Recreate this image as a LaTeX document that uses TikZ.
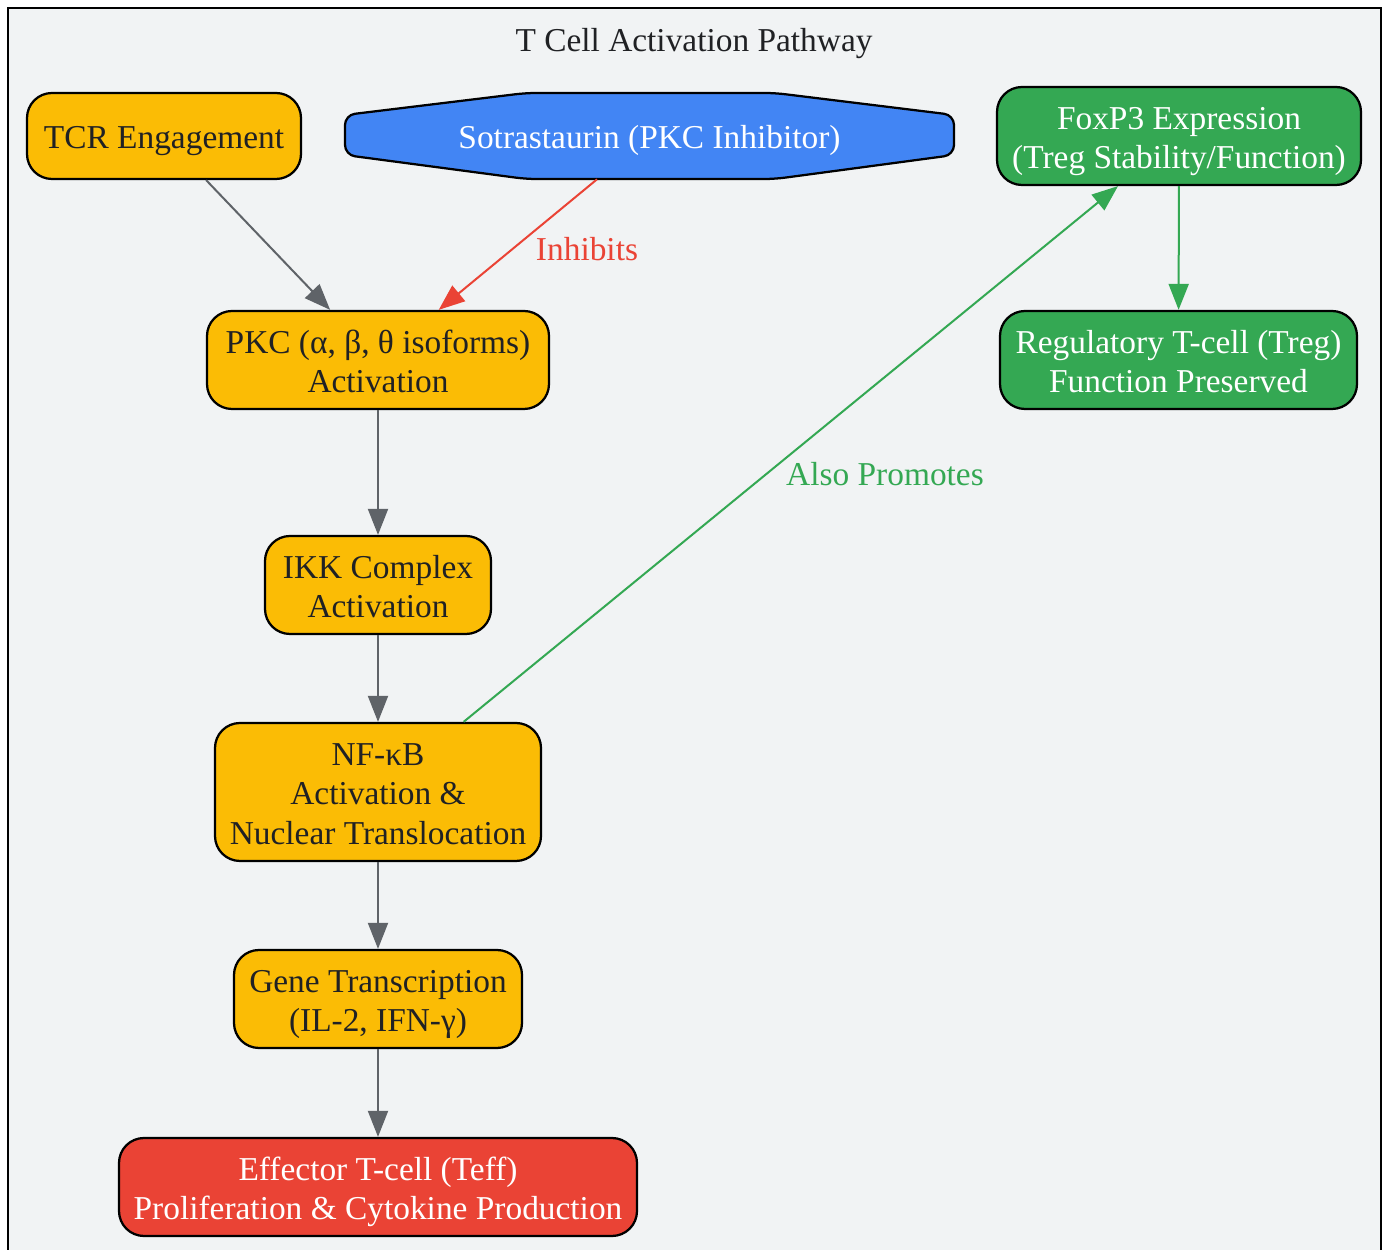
\documentclass[tikz,border=0pt]{standalone}
\usepackage{fontspec}
\setmainfont{Liberation Serif}
\usetikzlibrary{arrows.meta}
\definecolor{panelbg}{HTML}{F1F3F4}
\definecolor{gyellow}{HTML}{FBBC05}
\definecolor{gblue}{HTML}{4285F4}
\definecolor{ggreen}{HTML}{34A853}
\definecolor{gred}{HTML}{EA4335}
\definecolor{edgegray}{HTML}{5F6368}
\definecolor{inkdark}{HTML}{202124}
\newcommand{\boxtext}[1]{\raisebox{0pt}[\dimexpr\height+0.2cm\relax][\depth]{\begin{tabular}{@{}c@{}}#1\end{tabular}}}
\tikzset{
  stepnode/.style={draw=black, line width=0.045cm, rounded corners=0.5cm, inner sep=0pt},
  yellowstep/.style={stepnode, fill=gyellow, text=inkdark},
  greenstep/.style={stepnode, fill=ggreen, text=white},
  redstep/.style={stepnode, fill=gred, text=white},
  flow/.style={-{Triangle[length=0.52cm,width=0.4cm]}, line width=0.04cm},
}
\begin{document}
\begin{tikzpicture}
            \useasboundingbox (0.000000,0.000000) rectangle (27.740000,25.000000);
            % Drawing cluster frame
            \fill [white] (0.000000,0.000000) rectangle (27.740000,25.000000);%
            \draw [fill=panelbg, line width=0.04cm] (0.160000,-0.500000) rectangle (27.620000,24.840000);%
            {\fontsize{19}{22.4}\selectfont

            % Marking title
            \node (title) at (13.880000,24.120000) [text=inkdark] {T Cell Activation Pathway};%

            % Drawing node TCR
            \node (tcr) at (3.280000,22.280000) [yellowstep, minimum width=5.480000cm, minimum height=1.720000cm] {\boxtext{TCR Engagement}};%

            % Drawing node Sotrastaurin
            \draw [fill=gblue, line width=0.045cm, rounded corners=0.2cm] (6.900000,22.700000) -- (10.520000,23.140000) -- (15.500000,23.140000) -- (19.080000,22.700000) -- (19.080000,21.900000) -- (15.500000,21.420000) -- (10.520000,21.420000) -- (6.900000,21.900000) -- cycle;%
            \node (sotra) at (12.990000,22.280000) [text=white, minimum width=12.180000cm, minimum height=1.720000cm, inner sep=0pt] {\boxtext{Sotrastaurin (PKC Inhibitor)}};%

            % Drawing node FoxP3
            \node (foxp3) at (23.580000,22.280000) [greenstep, minimum width=7.280000cm, minimum height=1.960000cm] {\boxtext{FoxP3 Expression\\(Treg Stability/Function)}};%

            % Drawing node PKC
            \node (pkc) at (7.560000,17.800000) [yellowstep, minimum width=6.840000cm, minimum height=1.960000cm] {\boxtext{PKC (α, β, θ isoforms)\\Activation}};%

            % Drawing node Treg
            \node (treg) at (23.570000,17.800000) [greenstep, minimum width=7.140000cm, minimum height=1.960000cm] {\boxtext{Regulatory T-cell (Treg)\\Function Preserved}};%

            % Drawing node IKK
            \node (ikk) at (7.560000,13.300000) [yellowstep, minimum width=4.520000cm, minimum height=1.960000cm] {\boxtext{IKK Complex\\Activation}};%

            % Drawing node NF-kB
            \node (nfkb) at (7.560000,9.160000) [yellowstep, minimum width=6.520000cm, minimum height=2.760000cm] {\boxtext{NF-κB\\Activation \&\\Nuclear Translocation}};%

            % Drawing node gene transcription
            \node (gene) at (7.560000,5.020000) [yellowstep, minimum width=5.760000cm, minimum height=1.960000cm] {\boxtext{Gene Transcription\\(IL-2, IFN-γ)}};%

            % Drawing node Teff
            \node (teff) at (7.560000,1.260000) [redstep, minimum width=10.360000cm, minimum height=1.960000cm] {\boxtext{Effector T-cell (Teff)\\Proliferation \& Cytokine Production}};%

            % Drawing edges
            \draw [flow, edgegray] (tcr) -- (pkc);%
            \draw [flow, gred] (sotra) -- (pkc);%
            \draw [flow, edgegray] (pkc) -- (ikk);%
            \draw [flow, edgegray] (ikk) -- (nfkb);%
            \draw [flow, edgegray] (nfkb) -- (gene);%
            \draw [flow, edgegray] (gene) -- (teff);%
            \draw [flow, ggreen] (nfkb) -- (foxp3);%
            \draw [flow, ggreen] (foxp3) -- (treg);%

            % Marking edge labels
            \node (inhibits) at (11.740000,20.020000) [text=gred] {Inhibits};%
            \node (promotes) at (17.700000,15.520000) [text=ggreen] {Also Promotes};%
            }
        \end{tikzpicture}
\end{document}
